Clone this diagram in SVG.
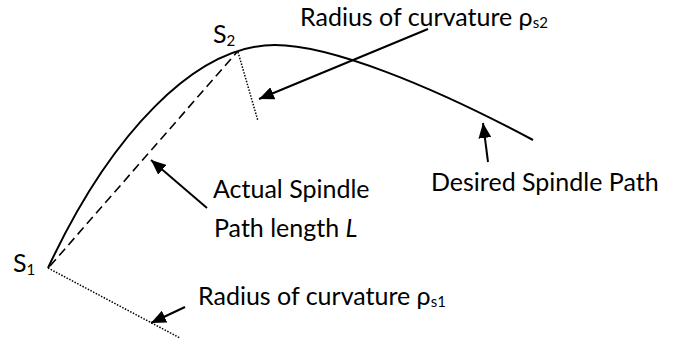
<svg xmlns="http://www.w3.org/2000/svg" width="679" height="346" viewBox="0 0 679 346">
  <style>
    text { font-family: Lato, "Liberation Sans", sans-serif; font-size: 25px; fill: #000; }
    .sub { font-size: 15px; }
    .curve { fill: none; stroke: #000; stroke-width: 2; }
    .dash { fill: none; stroke: #000; stroke-width: 1.6; stroke-dasharray: 9 5; }
    .dot { fill: none; stroke: #000; stroke-width: 1.5; stroke-dasharray: 1.5 1.5; }
    .arrow { fill: none; stroke: #000; stroke-width: 2; marker-end: url(#head); }
  </style>
  <defs>
    <marker id="head" markerUnits="userSpaceOnUse" markerWidth="16" markerHeight="13" refX="15" refY="6.5" orient="auto">
      <path d="M0,0 L15,6.5 L0,13 Z" fill="#000"/>
    </marker>
  </defs>
  <g id="desired-path">
    <path class="curve" d="M48,268 C110,135 195,45 275,45 C330,45 430,85 533,140"/>
  </g>
  <g id="actual-path">
    <path class="dash" d="M50,266 L237,52"/>
  </g>
  <g id="radius-lines">
    <path class="dot" d="M238,52 L258,121"/>
    <path class="dot" d="M48,268 L180,338"/>
  </g>
  <g id="connectors">
    <path class="arrow" d="M428,29 L259,99"/>
    <path class="arrow" d="M207,208 L151,160"/>
    <path class="arrow" d="M488,162 L483,123"/>
    <path class="arrow" d="M185,307 L151,323"/>
  </g>
  <g id="label-s1"><text x="13" y="272">S<tspan class="sub" dy="3">1</tspan></text></g>
  <g id="label-s2"><text x="213" y="43">S<tspan class="sub" dy="3">2</tspan></text></g>
  <g id="label-rho-s2"><text x="300" y="26">Radius of curvature ρ<tspan class="sub" dy="2">s2</tspan></text></g>
  <g id="label-actual">
    <text x="213" y="198">Actual Spindle</text>
    <text x="214" y="237">Path length <tspan font-style="italic">L</tspan></text>
  </g>
  <g id="label-desired"><text x="431" y="191">Desired Spindle Path</text></g>
  <g id="label-rho-s1"><text x="198" y="305">Radius of curvature ρ<tspan class="sub" dy="2">s1</tspan></text></g>
</svg>
